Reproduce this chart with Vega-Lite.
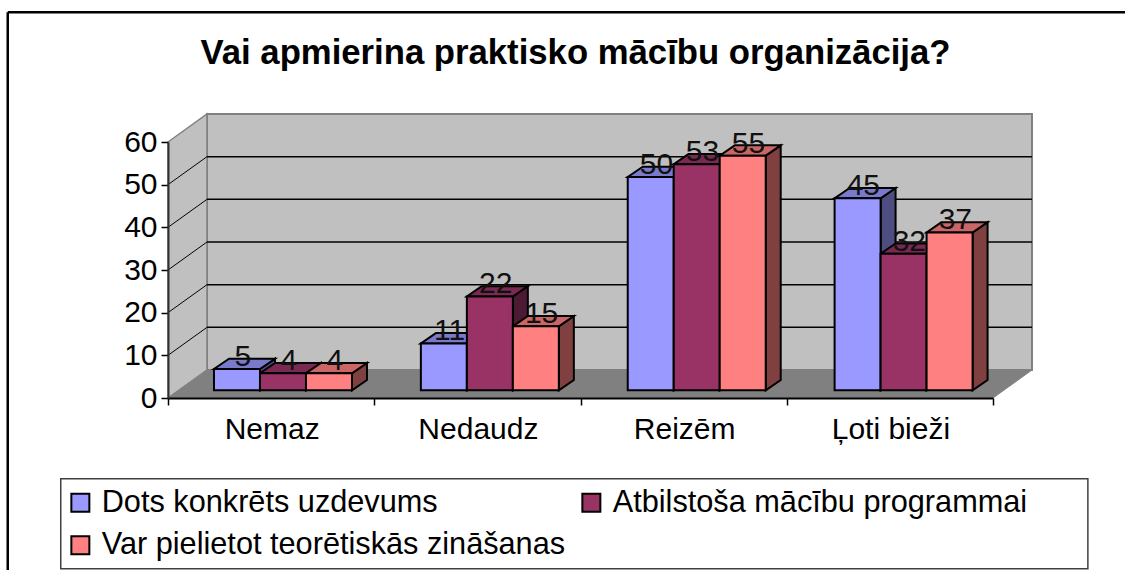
{"$schema":"https://vega.github.io/schema/vega-lite/v6.json","width":825,"height":256,"autosize":{"type":"none"},"padding":{"left":168,"top":142,"right":132,"bottom":172},"background":"white","title":{"text":"Vai apmierina praktisko mācību organizācija?","font":"Liberation Sans","fontWeight":"bold","fontSize":34.7,"color":"black","anchor":"middle","frame":"group","dx":-5,"offset":-61},"config":{"view":{"stroke":null},"font":"Liberation Sans"},"datasets":{"bars":[{"cat":"Nemaz","series":"Dots konkrēts uzdevums","v":5},{"cat":"Nemaz","series":"Atbilstoša mācību programmai","v":4},{"cat":"Nemaz","series":"Var pielietot teorētiskās zināšanas","v":4},{"cat":"Nedaudz","series":"Dots konkrēts uzdevums","v":11},{"cat":"Nedaudz","series":"Atbilstoša mācību programmai","v":22},{"cat":"Nedaudz","series":"Var pielietot teorētiskās zināšanas","v":15},{"cat":"Reizēm","series":"Dots konkrēts uzdevums","v":50},{"cat":"Reizēm","series":"Atbilstoša mācību programmai","v":53},{"cat":"Reizēm","series":"Var pielietot teorētiskās zināšanas","v":55},{"cat":"Ļoti bieži","series":"Dots konkrēts uzdevums","v":45},{"cat":"Ļoti bieži","series":"Atbilstoša mācību programmai","v":32},{"cat":"Ļoti bieži","series":"Var pielietot teorētiskās zināšanas","v":37}],"grid":[{"v":10},{"v":20},{"v":30},{"v":40},{"v":50}],"cats":[{"cat":"Nemaz","x":0.505,"y":0},{"cat":"Nedaudz","x":1.505,"y":0},{"cat":"Reizēm","x":2.505,"y":0},{"cat":"Ļoti bieži","x":3.505,"y":0}]},"encoding":{"x":{"field":"x","type":"quantitative","scale":{"domain":[0,4],"nice":false},"axis":{"title":null,"values":[0,1,2,3,4],"labels":false,"tickSize":7,"tickColor":"black","tickWidth":1.5,"domainColor":"black","domainWidth":2,"grid":false,"zindex":1}},"y":{"field":"y","type":"quantitative","scale":{"domain":[0,60],"nice":false,"zero":true},"axis":{"title":null,"values":[0,10,20,30,40,50,60],"tickSize":7,"tickColor":"black","tickWidth":1.5,"domainColor":"#303030","domainWidth":2,"grid":false,"labelFontSize":30,"labelColor":"black","labelPadding":4,"labelFont":"Liberation Sans","zindex":1}}},"layer":[{"data":{"values":[{"x":-0.52,"x2":4.46,"y":-18.9,"y2":-40.0}]},"mark":{"type":"rect","fill":"white","stroke":"#404040","strokeWidth":1.5},"encoding":{"x2":{"field":"x2"},"y2":{"field":"y2"}}},{"data":{"values":[{"x":-0.777,"x2":4.64,"y":90.4}]},"mark":{"type":"rule","stroke":"black","strokeWidth":2.5},"encoding":{"x2":{"field":"x2"}}},{"data":{"values":[{"x":-0.777,"y":90.4,"y2":-41}]},"mark":{"type":"rule","stroke":"black","strokeWidth":2.5},"encoding":{"y2":{"field":"y2"}}},{"data":{"values":[{"x":0.189,"x2":4.189,"y":6.56,"y2":66.56}]},"mark":{"type":"rect","fill":"#C0C0C0","stroke":"#808080","strokeWidth":2},"encoding":{"x2":{"field":"x2"},"y2":{"field":"y2"}}},{"data":{"values":[{"x":0,"y":60,"y2":0},{"x":0.189,"y":66.56,"y2":6.56}]},"mark":{"type":"area","fill":"#C0C0C0","stroke":"#808080","strokeWidth":1.5},"encoding":{"y2":{"field":"y2"}}},{"data":{"values":[{"x":0,"x2":4,"y":0},{"x":0.189,"x2":4.189,"y":6.56}]},"mark":{"type":"area","orient":"horizontal","fill":"#808080","stroke":"#808080","strokeWidth":1},"encoding":{"x2":{"field":"x2"}}},{"data":{"name":"grid"},"transform":[{"calculate":"datum.v+6.56","as":"y"},{"calculate":"0.189","as":"x"},{"calculate":"4.189","as":"xb"}],"mark":{"type":"rule","stroke":"black","strokeWidth":1.5},"encoding":{"x2":{"field":"xb"}}},{"data":{"name":"grid"},"transform":[{"calculate":"datum.v+6.56","as":"yb"},{"calculate":"0","as":"x"},{"calculate":"0.189","as":"xb"},{"calculate":"datum.v","as":"y"}],"mark":{"type":"rule","stroke":"black","strokeWidth":1},"encoding":{"x2":{"field":"xb"},"y2":{"field":"yb"}}},{"data":{"name":"bars"},"transform":[{"calculate":"1.003*indexof(['Nemaz','Nedaudz','Reizēm','Ļoti bieži'],datum.cat)+0.223*(1+indexof(['Dots konkrēts uzdevums','Atbilstoša mācību programmai','Var pielietot teorētiskās zināšanas'],datum.series))","as":"x0"},{"calculate":"[0,1]","as":"t"},{"flatten":["t"]},{"calculate":"datum.x0+0.223+datum.t*0.0727","as":"x"},{"calculate":"datum.v+1.8+datum.t*2.41","as":"y"},{"calculate":"1.8+datum.t*2.41","as":"yb"},{"calculate":"datum.cat+datum.series","as":"k"}],"mark":{"type":"area","stroke":"black","strokeWidth":2},"encoding":{"y2":{"field":"yb"},"detail":{"field":"k"},"color":{"field":"series","type":"nominal","legend":null,"scale":{"domain":["Dots konkrēts uzdevums","Atbilstoša mācību programmai","Var pielietot teorētiskās zināšanas"],"range":["#4D4D80","#4D1A33","#804040"]}}}},{"data":{"name":"bars"},"transform":[{"calculate":"1.003*indexof(['Nemaz','Nedaudz','Reizēm','Ļoti bieži'],datum.cat)+0.223*(1+indexof(['Dots konkrēts uzdevums','Atbilstoša mācību programmai','Var pielietot teorētiskās zināšanas'],datum.series))","as":"x0"},{"calculate":"[0,1]","as":"t"},{"flatten":["t"]},{"calculate":"datum.x0+datum.t*0.0727","as":"x"},{"calculate":"datum.x0+0.223+datum.t*0.0727","as":"xb"},{"calculate":"datum.v+1.8+datum.t*2.41","as":"y"},{"calculate":"datum.cat+datum.series","as":"k"}],"mark":{"type":"area","orient":"horizontal","stroke":"black","strokeWidth":2},"encoding":{"x2":{"field":"xb"},"detail":{"field":"k"},"color":{"field":"series","type":"nominal","legend":null,"scale":{"domain":["Dots konkrēts uzdevums","Atbilstoša mācību programmai","Var pielietot teorētiskās zināšanas"],"range":["#7A7ACC","#7A2952","#CC6666"]}}}},{"data":{"name":"bars"},"transform":[{"calculate":"1.003*indexof(['Nemaz','Nedaudz','Reizēm','Ļoti bieži'],datum.cat)+0.223*(1+indexof(['Dots konkrēts uzdevums','Atbilstoša mācību programmai','Var pielietot teorētiskās zināšanas'],datum.series))","as":"x"},{"calculate":"datum.x+0.223","as":"xb"},{"calculate":"datum.v+1.8","as":"y"},{"calculate":"1.8","as":"yb"}],"mark":{"type":"rect","stroke":"black","strokeWidth":2},"encoding":{"x2":{"field":"xb"},"y2":{"field":"yb"},"color":{"field":"series","type":"nominal","scale":{"domain":["Dots konkrēts uzdevums","Atbilstoša mācību programmai","Var pielietot teorētiskās zināšanas"],"range":["#9999FF","#993366","#FF8080"]},"legend":{"title":null,"orient":"none","direction":"horizontal","legendX":-115,"legendY":333,"columns":2,"padding":12,"symbolType":"square","symbolSize":324,"symbolStrokeColor":"black","symbolStrokeWidth":2,"labelFontSize":30.7,"labelFont":"Liberation Sans","labelColor":"black","labelOffset":6,"labelLimit":700,"rowPadding":11,"columnPadding":10}}}},{"data":{"name":"bars"},"transform":[{"calculate":"1.003*indexof(['Nemaz','Nedaudz','Reizēm','Ļoti bieži'],datum.cat)+0.223*(1.5+indexof(['Dots konkrēts uzdevums','Atbilstoša mācību programmai','Var pielietot teorētiskās zināšanas'],datum.series))+0.028","as":"x"},{"calculate":"datum.v+2.5","as":"y"}],"mark":{"type":"text","fontSize":30,"color":"#111111","baseline":"alphabetic","align":"center","font":"Liberation Sans"},"encoding":{"text":{"field":"v","type":"quantitative"}}},{"data":{"name":"cats"},"mark":{"type":"text","fontSize":30,"color":"black","baseline":"alphabetic","align":"center","dy":41,"font":"Liberation Sans"},"encoding":{"text":{"field":"cat"}}}],"resolve":{"scale":{"color":"independent"}}}
